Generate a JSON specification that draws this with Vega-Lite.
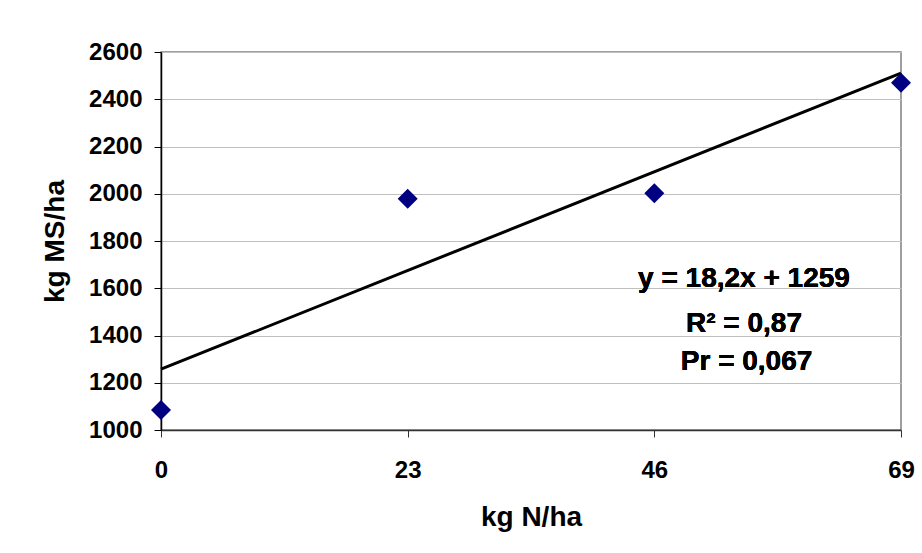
{
  "$schema": "https://vega.github.io/schema/vega-lite/v6.json",
  "width": 740,
  "height": 378,
  "autosize": {"type": "none"},
  "padding": {"left": 161, "top": 52, "right": 21, "bottom": 123},
  "background": "white",
  "config": {
    "font": "Liberation Sans",
    "view": {"stroke": "#808080", "strokeWidth": 1.5},
    "axisX": {
      "domainColor": "#333333", "domainWidth": 1.5,
      "tickColor": "#333333", "tickSize": 7, "tickWidth": 1,
      "labelFontSize": 24, "labelFontWeight": "bold", "labelColor": "black",
      "labelPadding": 21, "labelFlush": false, "grid": false,
      "titleFontSize": 28, "titleFontWeight": "bold", "titleColor": "black",
      "titleY": 95, "titleBaseline": "alphabetic"
    },
    "axisY": {
      "domainColor": "black", "domainWidth": 1.5,
      "tickColor": "black", "tickSize": 7, "tickWidth": 1,
      "labelFontSize": 24, "labelFontWeight": "bold", "labelColor": "black",
      "labelPadding": 12,
      "gridColor": "#c0c0c0", "gridWidth": 1,
      "titleFontSize": 28, "titleFontWeight": "bold", "titleColor": "black",
      "titleX": -98, "titleY": 189, "titleBaseline": "alphabetic", "titleAngle": -90, "titleAlign": "center"
    }
  },
  "data": {
    "values": [
      {"n": 0, "ms": 1085},
      {"n": 23, "ms": 1979},
      {"n": 46, "ms": 2002},
      {"n": 69, "ms": 2470}
    ]
  },
  "encoding": {
    "x": {
      "field": "n", "type": "quantitative",
      "scale": {"domain": [0, 69], "nice": false, "zero": false},
      "axis": {"values": [0, 23, 46, 69], "title": "kg N/ha"}
    },
    "y": {
      "field": "ms", "type": "quantitative",
      "scale": {"domain": [1000, 2600], "nice": false, "zero": false},
      "axis": {"values": [1000, 1200, 1400, 1600, 1800, 2000, 2200, 2400, 2600], "format": "d", "title": "kg MS/ha"}
    }
  },
  "layer": [
    {
      "transform": [{"regression": "ms", "on": "n"}],
      "mark": {"type": "line", "color": "black", "strokeWidth": 3}
    },
    {
      "mark": {"type": "point", "shape": "diamond", "filled": true, "color": "#000080", "opacity": 1, "size": 400}
    },
    {
      "mark": {"type": "text", "fontSize": 28, "fontWeight": "bold", "align": "center", "baseline": "alphabetic", "color": "black"},
      "encoding": {"x": {"datum": 54.36}, "y": {"datum": 1604}, "text": {"value": "y = 18,2x + 1259"}}
    },
    {
      "mark": {"type": "text", "fontSize": 28, "fontWeight": "bold", "align": "center", "baseline": "alphabetic", "color": "black"},
      "encoding": {"x": {"datum": 54.36}, "y": {"datum": 1413.5}, "text": {"value": "R² = 0,87"}}
    },
    {
      "mark": {"type": "text", "fontSize": 28, "fontWeight": "bold", "align": "center", "baseline": "alphabetic", "color": "black"},
      "encoding": {"x": {"datum": 54.6}, "y": {"datum": 1254}, "text": {"value": "Pr = 0,067"}}
    }
  ]
}
